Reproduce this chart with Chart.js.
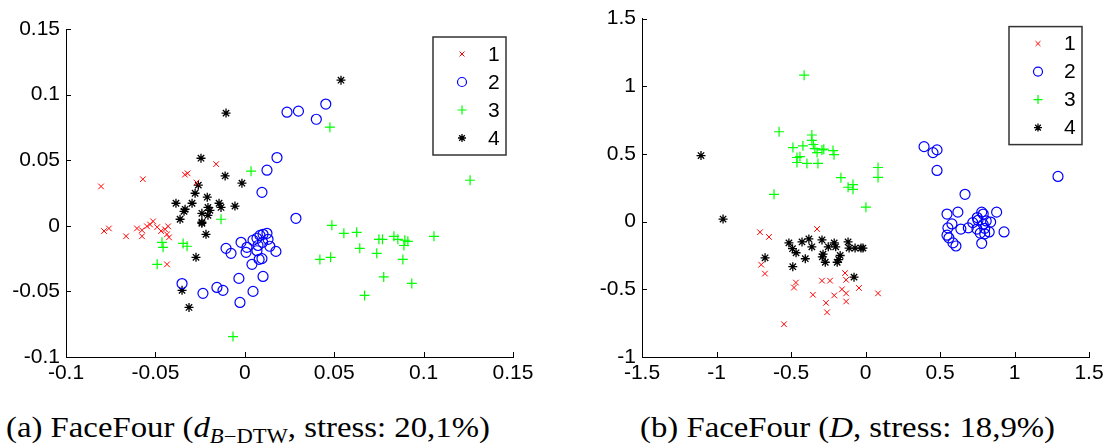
<!DOCTYPE html>
<html>
<head>
<meta charset="utf-8">
<script src="https://cdn.jsdelivr.net/npm/chart.js@4.4.1/dist/chart.umd.min.js"></script>
<style>
    body { margin: 0; background: #fff; width: 1112px; height: 448px; overflow: hidden; position: relative; }
    .panel { position: absolute; top: 0; width: 556px; height: 400px; }
    #leftPanel { left: 0; }
    #rightPanel { left: 556px; }
    .caption { position: absolute; top: 410px; font-family: "Liberation Serif", serif; font-size: 29px; line-height: 34px;
               white-space: nowrap; color: #000; transform: scaleX(1.13); transform-origin: left top; }
    .caption i { font-style: italic; }
    .caption sub { font-size: 20px; vertical-align: -6px; line-height: 0; }
</style>
</head>
<body>
<div class="panel" id="leftPanel"><canvas id="leftChart" width="556" height="400"></canvas></div>
<div class="panel" id="rightPanel"><canvas id="rightChart" width="556" height="400"></canvas></div>
<div class="caption" style="left:6px">(a) FaceFour (<i>d</i><sub><i>B</i>&minus;DTW</sub>, stress: 20,1%)</div>
<div class="caption" style="left:640px">(b) FaceFour (<i>D</i>, stress: 18,9%)</div>

<script>
// ============================================
// DATA
// ============================================

const classLabels = ['1', '2', '3', '4'];

// (a) d_B-DTW
const leftXTicks = [-0.1, -0.05, 0, 0.05, 0.1, 0.15];
const leftYTicks = [-0.1, -0.05, 0, 0.05, 0.1, 0.15];

const leftClass1 = [
    [-0.0804, 0.030], [-0.057, 0.0355], [-0.016, 0.047], [-0.0335, 0.039], [-0.032, 0.040], [-0.027, 0.033],
    [-0.0787, -0.004], [-0.076, -0.002], [-0.0664, -0.008], [-0.0603, -0.002], [-0.0575, -0.0034], [-0.0575, -0.008],
    [-0.0547, -0.0004], [-0.053, 0.001], [-0.0513, 0.0034], [-0.049, -0.001], [-0.0468, -0.004], [-0.0446, -0.0027],
    [-0.0429, -0.0004], [-0.0435, -0.0065], [-0.0424, -0.0088], [-0.0435, -0.0294]
];
const leftClass2 = [
    [0.0236, 0.0866], [0.030, 0.0874], [0.0453, 0.0928], [0.040, 0.0812], [0.018, 0.052], [0.0124, 0.0424],
    [0.0096, 0.0255], [0.0286, 0.0057], [-0.0351, -0.044], [-0.0234, -0.0515], [-0.0156, -0.047], [-0.0122, -0.0492],
    [-0.0027, -0.0584], [-0.0033, -0.0401], [0.0046, -0.050], [0.0102, -0.0386], [0.004, -0.0294], [0.008, -0.0256],
    [-0.0105, -0.0172], [-0.0077, -0.021], [-0.0021, -0.0126], [0.0012, -0.0164], [0.0007, -0.0202],
    [0.0046, -0.011], [0.0068, -0.0095], [0.0085, -0.0073], [0.0102, -0.0065], [0.0124, -0.0057], [0.013, -0.0103],
    [0.010, -0.0126], [0.0074, -0.015], [0.014, -0.0156], [0.0174, -0.0195], [0.0068, -0.019], [0.0096, -0.025]
];
const leftClass3 = [
    [0.0035, 0.0416], [0.0476, 0.0752], [0.126, 0.0347], [-0.0133, 0.005], [-0.0463, -0.0126], [-0.0457, -0.0164],
    [-0.049, -0.0294], [-0.0345, -0.0134], [-0.0323, -0.0156], [-0.0066, -0.0844],
    [0.0487, 0.0004], [0.0554, -0.0057], [0.0626, -0.005], [0.075, -0.0103], [0.077, -0.0103], [0.0834, -0.008],
    [0.0856, -0.0103], [0.0895, -0.011], [0.0912, -0.0118], [0.089, -0.015], [0.1058, -0.008], [0.0643, -0.0172],
    [0.042, -0.0256], [0.048, -0.024], [0.0738, -0.021], [0.0884, -0.0256], [0.0777, -0.039], [0.0934, -0.0439],
    [0.067, -0.0531]
];
const leftClass4 = [
    [-0.0105, 0.0859], [0.0538, 0.111], [-0.0245, 0.0515], [-0.011, 0.038], [-0.026, 0.031], [-0.0016, 0.0325],
    [-0.0278, 0.0248], [-0.021, 0.0218], [-0.0385, 0.0172], [-0.0295, 0.0172], [-0.0334, 0.0126], [-0.034, 0.011],
    [-0.0362, 0.005], [-0.0206, 0.014], [-0.0195, 0.0118], [-0.024, 0.0095], [-0.0206, 0.008], [-0.024, 0.0027],
    [-0.024, 0.0019], [-0.0144, 0.0172], [-0.0133, 0.014], [-0.0055, 0.015], [-0.0217, -0.0065], [-0.0273, -0.024],
    [-0.0351, -0.0492], [-0.0312, -0.0622]
];

// (b) D
const rightXTicks = [-1.5, -1, -0.5, 0, 0.5, 1, 1.5];
const rightYTicks = [-1, -0.5, 0, 0.5, 1, 1.5];

const rightClass1 = [
    [-0.708, -0.078], [-0.648, -0.113], [-0.70, -0.318], [-0.675, -0.384], [-0.325, -0.054], [-0.467, -0.45],
    [-0.48, -0.487], [-0.353, -0.54], [-0.292, -0.436], [-0.238, -0.436], [-0.265, -0.60], [-0.21, -0.545],
    [-0.258, -0.67], [-0.547, -0.758], [-0.137, -0.38], [-0.13, -0.43], [-0.044, -0.49], [-0.158, -0.50],
    [-0.13, -0.53], [-0.13, -0.59], [0.084, -0.53]
];
const rightClass2 = [
    [0.393, 0.554], [0.453, 0.51], [0.48, 0.53], [0.48, 0.378], [0.668, 0.202], [1.292, 0.334], [0.547, 0.056],
    [0.62, 0.07], [0.78, 0.07], [0.79, 0.056], [0.88, 0.07], [0.93, -0.076], [0.58, -0.017], [0.553, -0.046],
    [0.64, -0.055], [0.69, -0.046], [0.72, -0.007], [0.755, 0.01], [0.748, -0.055], [0.79, -0.02], [0.81, 0.005],
    [0.84, -0.003], [0.83, -0.076], [0.80, -0.09], [0.77, -0.085], [0.547, -0.1], [0.587, -0.157], [0.607, -0.18],
    [0.78, -0.16], [0.56, -0.12], [0.80, -0.05], [0.75, 0.03]
];
const rightClass3 = [
    [-0.412, 1.082], [-0.58, 0.664], [-0.614, 0.202], [-0.487, 0.547], [-0.46, 0.474], [-0.44, 0.48], [-0.46, 0.437],
    [-0.393, 0.43], [-0.319, 0.43], [-0.42, 0.56], [-0.36, 0.64], [-0.36, 0.60], [-0.35, 0.57], [-0.34, 0.54],
    [-0.325, 0.51], [-0.292, 0.53], [-0.28, 0.535], [-0.218, 0.525], [-0.211, 0.495], [-0.165, 0.325],
    [-0.117, 0.254], [-0.084, 0.274], [-0.084, 0.239], [0.084, 0.40], [0.084, 0.327], [0.003, 0.107]
];
const rightClass4 = [
    [-1.104, 0.488], [-0.956, 0.019], [-0.674, -0.267], [-0.514, -0.157], [-0.49, -0.20], [-0.466, -0.23],
    [-0.488, -0.333], [-0.426, -0.15], [-0.38, -0.128], [-0.36, -0.186], [-0.404, -0.274], [-0.292, -0.135],
    [-0.29, -0.26], [-0.285, -0.24], [-0.27, -0.30], [-0.25, -0.186], [-0.21, -0.157], [-0.20, -0.186],
    [-0.19, -0.30], [-0.17, -0.25], [-0.18, -0.28], [-0.117, -0.15], [-0.11, -0.195], [-0.07, -0.195],
    [-0.03, -0.195], [-0.017, -0.195], [-0.077, -0.41]
];

// ============================================
// STYLE
// ============================================

const markerStyles = [
    { pointStyle: 'crossRot', color: '#ff0000', radius: 4, width: 1 },
    { pointStyle: 'circle', color: '#0000ff', radius: 5, width: 1.2 },
    { pointStyle: 'cross', color: '#00ff00', radius: 5, width: 1.2 },
    { pointStyle: 'star', color: '#000000', radius: 4.5, width: 1.3 }
];

const tickFont = { family: 'Liberation Sans, Arial, sans-serif', size: 21 };

function fmtTick(v) {
    return String(Math.round(v * 100) / 100);
}

// inward tick marks, like the original
const innerTicks = {
    id: 'innerTicks',
    afterDraw(chart) {
        const ctx = chart.ctx;
        const area = chart.chartArea;
        const xs = chart.scales.x, ys = chart.scales.y;
        ctx.save();
        ctx.strokeStyle = '#000';
        ctx.lineWidth = 1;
        ctx.beginPath();
        xs.ticks.forEach(t => {
            const px = Math.round(xs.getPixelForValue(t.value)) + 0.5;
            ctx.moveTo(px, area.bottom);
            ctx.lineTo(px, area.bottom - 5);
        });
        ys.ticks.forEach(t => {
            const py = Math.round(ys.getPixelForValue(t.value)) + 0.5;
            ctx.moveTo(area.left, py);
            ctx.lineTo(area.left + 5, py);
        });
        ctx.stroke();
        ctx.restore();
    }
};

// boxed legend in the top right corner of the plot area
const boxLegend = {
    id: 'boxLegend',
    afterDraw(chart) {
        const ctx = chart.ctx;
        const area = chart.chartArea;
        const w = 73, h = 118;
        const left = area.right - 7 - w;
        const top = area.top + 8;
        ctx.save();
        ctx.fillStyle = '#fff';
        ctx.fillRect(left, top, w, h);
        ctx.strokeStyle = '#333';
        ctx.lineWidth = 1.5;
        ctx.strokeRect(left, top, w, h);
        classLabels.forEach((label, i) => {
            const m = markerStyles[i];
            const cy = top + 17 + i * 28;
            ctx.strokeStyle = m.color;
            ctx.fillStyle = 'rgba(0,0,0,0)';
            ctx.lineWidth = m.width;
            Chart.helpers.drawPoint(ctx, { pointStyle: m.pointStyle, radius: m.radius - 0.5, borderWidth: m.width, rotation: 0 }, left + 29, cy);
            ctx.fillStyle = '#000';
            ctx.font = '21px Liberation Sans, Arial, sans-serif';
            ctx.textBaseline = 'middle';
            ctx.textAlign = 'left';
            ctx.fillText(label, left + 55, cy + 1);
        });
        ctx.restore();
    }
};

function makeDatasets(groups) {
    return groups.map((pts, i) => {
        const m = markerStyles[i];
        return {
            label: classLabels[i],
            data: pts.map(p => ({ x: p[0], y: p[1] })),
            pointStyle: m.pointStyle,
            pointRadius: m.radius,
            pointBorderWidth: m.width,
            pointBorderColor: m.color,
            pointBackgroundColor: 'rgba(0,0,0,0)',
            showLine: false
        };
    });
}

function makeScale(min, max, ticks, isX, size) {
    return {
        type: 'linear',
        min: min,
        max: max,
        afterBuildTicks: s => { s.ticks = ticks.map(v => ({ value: v })); },
        afterFit: s => { if (isX) s.height = size; else s.width = size; },
        grid: { display: false, drawTicks: false },
        border: { display: true, color: '#000', width: 1 },
        ticks: {
            color: '#000',
            font: tickFont,
            padding: isX ? 4 : 6,
            autoSkip: false,
            maxRotation: 0,
            callback: v => fmtTick(v)
        }
    };
}

function renderScatter(canvasId, groups, xr, yr, xTicks, yTicks, yWidth, padding) {
    const ctx = document.getElementById(canvasId).getContext('2d');
    return new Chart(ctx, {
        type: 'scatter',
        data: { datasets: makeDatasets(groups) },
        options: {
            responsive: false,
            animation: false,
            layout: { padding: padding },
            plugins: {
                legend: { display: false },
                tooltip: { enabled: false }
            },
            scales: {
                x: makeScale(xr[0], xr[1], xTicks, true, 43),
                y: makeScale(yr[0], yr[1], yTicks, false, yWidth)
            }
        },
        plugins: [innerTicks, boxLegend]
    });
}

renderScatter('leftChart', [leftClass1, leftClass2, leftClass3, leftClass4],
    [-0.1, 0.15], [-0.1, 0.15], leftXTicks, leftYTicks, 66,
    { top: 29, right: 43, bottom: 0, left: 0 });

renderScatter('rightChart', [rightClass1, rightClass2, rightClass3, rightClass4],
    [-1.5, 1.5], [-1, 1.5], rightXTicks, rightYTicks, 86,
    { top: 16, right: 23, bottom: 0, left: 0 });
</script>
</body>
</html>
